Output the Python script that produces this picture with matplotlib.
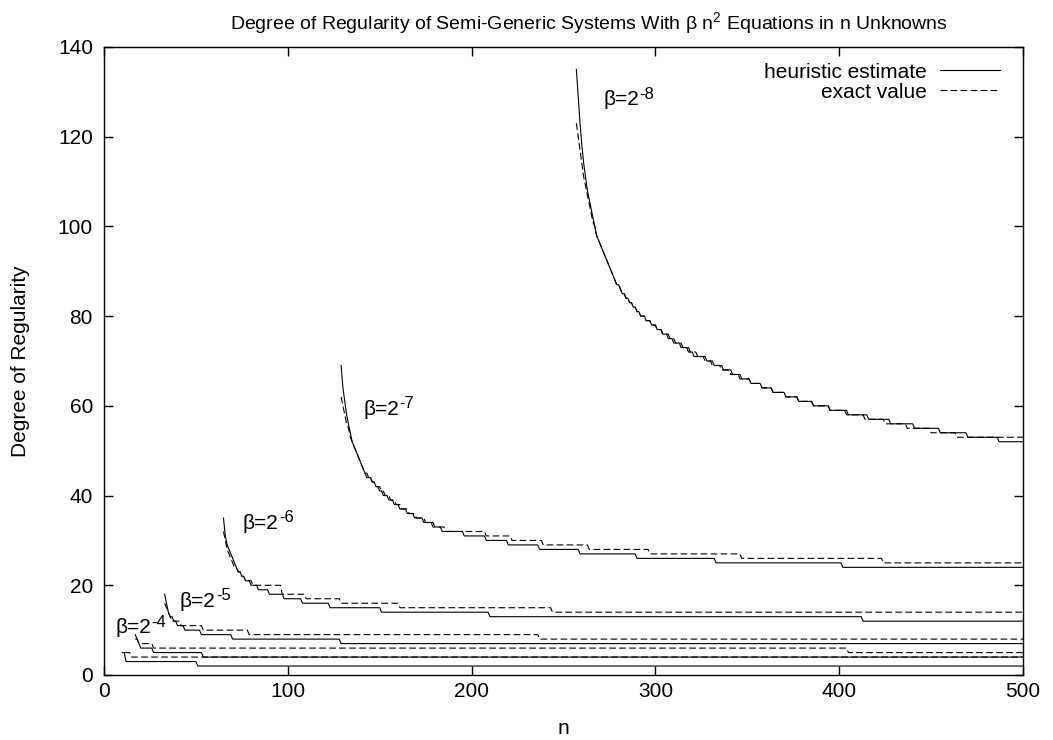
import numpy as np
import matplotlib
matplotlib.use("Agg")
import matplotlib.pyplot as plt

plt.rcParams['font.family'] = ['Liberation Sans', 'DejaVu Sans']
plt.rcParams['mathtext.fontset'] = 'custom'
plt.rcParams['mathtext.rm'] = 'Liberation Sans'
plt.rcParams['mathtext.it'] = 'Liberation Sans'
plt.rcParams['mathtext.default'] = 'regular'

# ---- data: (start n, degree) for each constant level of each step curve ----
h8_n = [257, 258, 259, 260, 261, 262, 263, 264, 265, 266, 267, 268, 269, 270, 271, 272, 273, 274, 275, 276,
        277, 278, 279, 281, 282, 284, 286, 288, 290, 292, 295, 298, 301, 304, 307, 310, 314, 318, 321, 325,
        328, 332, 337, 342, 347, 352, 358, 364, 371, 378, 386, 395, 405, 416, 428, 441, 455, 470, 487]
h8_d = [135, 129, 123, 118, 114, 111, 108, 106, 104, 102, 100, 98, 97, 96, 95, 94, 93, 92, 91, 90,
        89, 88, 87, 86, 85, 84, 83, 82, 81, 80, 79, 78, 77, 76, 75, 74, 73, 72, 71, 71,
        70, 69, 68, 67, 66, 65, 64, 63, 62, 61, 60, 59, 58, 57, 56, 55, 54, 53, 52]
e8_n = [257, 258, 259, 260, 261, 262, 263, 264, 265, 266, 267, 268, 269, 270, 271, 272, 273, 274, 275, 276,
        277, 278, 279, 281, 282, 284, 286, 288, 290, 292, 295, 298, 301, 304, 308, 311, 315, 319, 323, 327,
        331, 336, 341, 346, 352, 358, 364, 371, 378, 386, 395, 404, 414, 425, 437, 450, 464, 480]
e8_d = [123, 120, 117, 114, 111, 109, 107, 105, 103, 101, 100, 98, 97, 96, 95, 94, 93, 92, 91, 90,
        89, 88, 87, 86, 85, 84, 83, 82, 81, 80, 79, 78, 77, 76, 75, 74, 73, 72, 71, 70,
        69, 68, 67, 66, 65, 64, 63, 62, 61, 60, 59, 58, 57, 56, 55, 54, 53, 53]

h7_n = [129, 130, 131, 132, 133, 134, 135, 136, 137, 138, 139, 140, 141, 142, 143, 144, 146, 148, 150, 152,
        155, 158, 161, 165, 169, 174, 179, 184, 196, 208, 220, 237, 259, 290, 333, 402]
h7_d = [69, 64, 61, 58, 56, 54, 52, 51, 50, 49, 48, 47, 46, 45, 44, 44, 43, 42, 41, 40,
        39, 38, 37, 36, 35, 34, 33, 32, 31, 30, 29, 28, 27, 26, 25, 24]
e7_n = [129, 130, 131, 132, 133, 134, 135, 136, 137, 138, 139, 140, 141, 142, 144, 146, 148, 151, 153, 156,
        159, 162, 166, 170, 175, 180, 186, 208, 222, 239, 264, 297, 347, 424]
e7_d = [62, 60, 58, 56, 55, 53, 52, 51, 50, 49, 48, 47, 46, 45, 44, 43, 42, 41, 40, 39,
        38, 37, 36, 35, 34, 33, 32, 31, 30, 29, 28, 27, 26, 25]

h6_n = [65, 66, 67, 68, 69, 70, 71, 72, 73, 75, 77, 80, 84, 90, 98, 108, 123, 151, 210, 413]
h6_d = [35, 31, 29, 28, 27, 26, 25, 24, 23, 22, 21, 20, 19, 18, 17, 16, 15, 14, 13, 12]
e6_n = [65, 66, 67, 68, 69, 70, 71, 73, 75, 77, 81, 97, 110, 129, 161, 244]
e6_d = [32, 30, 28, 27, 26, 25, 24, 23, 22, 21, 20, 18, 17, 16, 15, 14]

h5_n = [33, 34, 35, 36, 38, 40, 44, 53, 70, 129]
h5_d = [18, 16, 14, 13, 12, 11, 10, 9, 8, 7]
e5_n = [33, 34, 35, 36, 37, 42, 54, 79, 237]
e5_d = [16, 15, 14, 13, 12, 11, 10, 9, 8]

h4_n = [17, 18, 19, 20, 27, 54]
h4_d = [9, 8, 7, 6, 5, 4]
e4_n = [17, 19, 27, 405]
e4_d = [8, 7, 6, 5]

h3_n = [10, 12, 51]
h3_d = [5, 3, 2]
e3_n = [11, 15]
e3_d = [5, 4]

N_MAX = 500

heuristic = [(h8_n, h8_d), (h7_n, h7_d), (h6_n, h6_d), (h5_n, h5_d), (h4_n, h4_d), (h3_n, h3_d)]
exact = [(e8_n, e8_d), (e7_n, e7_d), (e6_n, e6_d), (e5_n, e5_d), (e4_n, e4_d), (e3_n, e3_d)]

beta_exps = [8, 7, 6, 5, 4]
label_n = [271.5, 141.1, 75.5, 41.3, 6.0]
label_d = [127.0, 58.0, 32.6, 15.2, 9.3]


def expand(starts, levels, nmax=N_MAX):
    starts = np.asarray(starts)
    ns = np.arange(starts[0], nmax + 1)
    idx = np.searchsorted(starts, ns, side='right') - 1
    return ns, np.asarray(levels)[idx]


FS = 15
fig = plt.figure(figsize=(10.53, 7.40), dpi=100)
ax = fig.add_axes([104 / 1053, 1 - 675 / 740, (1023 - 104) / 1053, (675 - 47) / 740])

lw = 0.8
first = True
for n_, d_ in heuristic:
    x, y = expand(n_, d_)
    ax.plot(x, y, color='black', lw=lw, label='heuristic estimate' if first else None)
    first = False
first = True
for n_, d_ in exact:
    x, y = expand(n_, d_)
    ax.plot(x, y, color='black', lw=lw, ls=(0, (6, 3)), label='exact value' if first else None)
    first = False

for k, lx, ly in zip(beta_exps, label_n, label_d):
    t = ax.text(lx, ly, 'β=2', fontsize=FS, ha='left', va='baseline')
    ax.annotate('-%d' % k, xy=(1, 1), xycoords=t, xytext=(0.3, 2.5), textcoords='offset points',
                fontsize=FS * 0.8, ha='left', va='top')

ax.set_xlim(0, 500)
ax.set_ylim(0, 140)
ax.set_xticks([0, 100, 200, 300, 400, 500])
ax.set_yticks([0, 20, 40, 60, 80, 100, 120, 140])
ax.tick_params(direction='in', length=6.8, width=1.0, top=True, right=True, labelsize=FS)
ax.tick_params(axis='x', pad=5)
ax.tick_params(axis='y', pad=8)
for s in ax.spines.values():
    s.set_linewidth(1.0)

ax.set_xlabel('n', fontsize=FS, labelpad=13)
ax.set_ylabel('Degree of Regularity', fontsize=FS, labelpad=20)
ax.set_title(r'Degree of Regularity of Semi-Generic Systems With β n$^2$ Equations in n Unknowns',
             fontsize=14, pad=13, x=0.528)

ax.legend(loc='upper right', frameon=False, markerfirst=False, fontsize=FS,
          handlelength=2.9, handletextpad=0.62, labelspacing=0.05, borderaxespad=0,
          borderpad=0, bbox_to_anchor=(0.975, 0.975))

fig.savefig('out.png', dpi=100)
